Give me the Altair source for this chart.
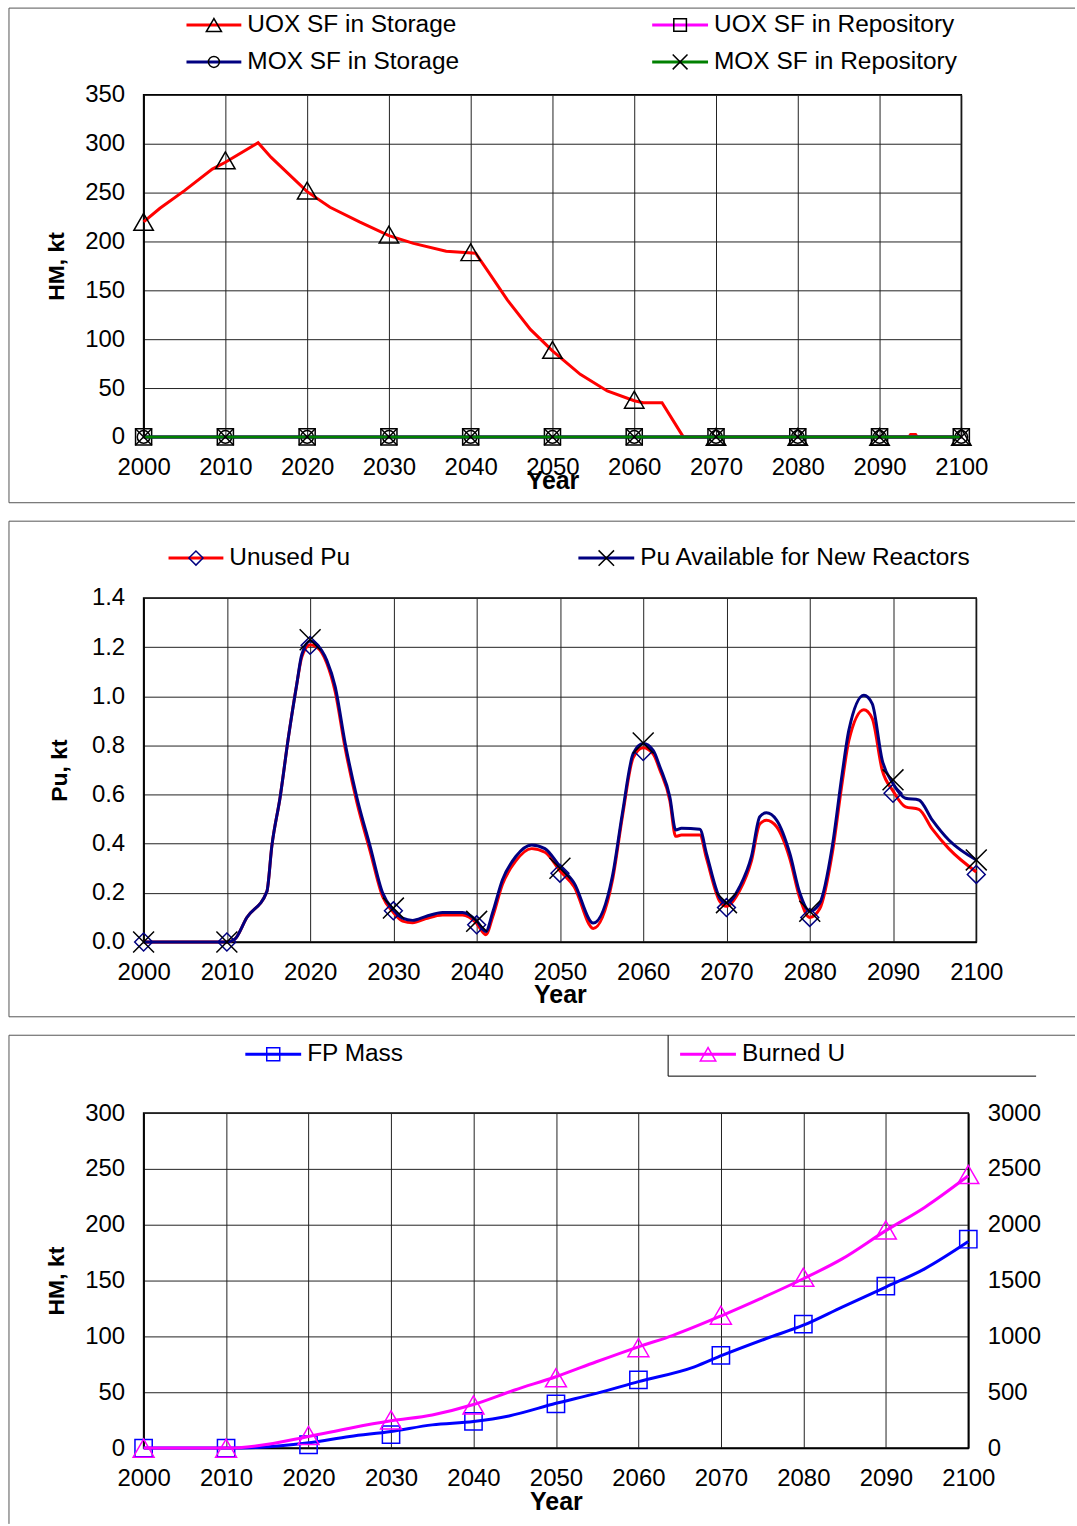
import altair as alt
import pandas as pd

FONT = "Liberation Sans"
DECADES = [2000, 2010, 2020, 2030, 2040, 2050, 2060, 2070, 2080, 2090, 2100]

# ---------------- Panel 1: spent fuel (HM, kt) ----------------
uox_storage_years = [2000, 2002, 2005, 2008.4, 2010, 2014, 2015.6, 2020, 2022.8, 2026.4, 2030, 2033,
                     2037, 2040.6, 2042, 2044.5, 2047.3, 2050, 2053.4, 2056.7, 2060, 2061.1, 2063.4,
                     2066, 2070, 2093.6, 2093.8, 2094.4, 2094.6, 2100]
uox_storage_vals = [220, 234, 252, 274, 281, 301, 286, 251, 235, 220, 206, 198,
                    190, 188, 171, 140, 110, 88, 64, 47, 37, 35, 35,
                    0, 0, 0, 2.5, 2.5, 0, 0]
uox_storage_marks = [220, 283, 252, 207, 189, 89, 38, 0, 0, 0, 0]
uox_repo_marks = [0, 0, 0, 0, 0, 0, 0, 0, 0, 0, 0]
mox_storage_marks = [0, 0, 0, 0, 0, 0, 0, 0, 0, 0, 0]
mox_repo_marks = [0, 0, 0, 0, 0, 0, 0, 0, 0, 0, 0]
hm_ticks = [0, 50, 100, 150, 200, 250, 300, 350]

# ---------------- Panel 2: plutonium (Pu, kt) ----------------
pu_years = [2000, 2010, 2010.9, 2012.4, 2014.8, 2015.4, 2016.4, 2017.4, 2018.4, 2019, 2020, 2020.8,
            2022, 2023, 2024.2, 2025.6, 2027.2, 2028.7, 2030, 2031.1, 2032.3, 2033.9, 2035.9,
            2038.3, 2039.9, 2041.1, 2041.9, 2043.1, 2044.7, 2046.6, 2048.2, 2050, 2051.7, 2054,
            2056.3, 2057.5, 2058.8, 2060, 2061.2, 2062, 2063.2, 2063.9, 2064.6, 2066.8, 2067.6,
            2069.2, 2070, 2071.6, 2073, 2074, 2074.8, 2076, 2077.6, 2078.8, 2080, 2081.2, 2082.7,
            2083.9, 2084.7, 2086.5, 2087.5, 2088.7, 2090, 2091.5, 2093.1, 2094.7, 2096.7, 2100]
pu_available = [0, 0, 0.01, 0.10, 0.205, 0.39, 0.59, 0.835, 1.05, 1.17, 1.225, 1.21,
                1.146, 1.04, 0.81, 0.59, 0.39, 0.2, 0.13, 0.097, 0.088, 0.104, 0.12,
                0.12, 0.09, 0.043, 0.118, 0.253, 0.348, 0.395, 0.38, 0.307, 0.24, 0.077,
                0.267, 0.524, 0.767, 0.808, 0.78, 0.713, 0.59, 0.456, 0.463, 0.459, 0.36,
                0.179, 0.158, 0.226, 0.348, 0.51, 0.526, 0.497, 0.361, 0.2, 0.125, 0.158, 0.388,
                0.686, 0.862, 1.004, 0.97, 0.74, 0.645, 0.585, 0.578, 0.497, 0.415, 0.334]
pu_unused = [0, 0, 0.01, 0.10, 0.205, 0.39, 0.59, 0.835, 1.05, 1.16, 1.21, 1.20,
             1.135, 1.02, 0.79, 0.57, 0.37, 0.185, 0.12, 0.085, 0.078, 0.095, 0.11,
             0.11, 0.08, 0.03, 0.10, 0.235, 0.33, 0.38, 0.365, 0.29, 0.225, 0.055,
             0.25, 0.51, 0.75, 0.79, 0.765, 0.70, 0.575, 0.43, 0.435, 0.435, 0.34,
             0.165, 0.145, 0.21, 0.33, 0.48, 0.495, 0.47, 0.34, 0.18, 0.10, 0.135, 0.36,
             0.65, 0.82, 0.945, 0.91, 0.70, 0.615, 0.55, 0.54, 0.46, 0.38, 0.285]
pu_available_marks = [0, 0, 1.23, 0.138, 0.084, 0.30, 0.81, 0.16, 0.125, 0.66, 0.334]
pu_unused_marks = [0, 0, 1.207, 0.127, 0.07, 0.28, 0.775, 0.14, 0.10, 0.605, 0.275]
pu_ticks = [0.0, 0.2, 0.4, 0.6, 0.8, 1.0, 1.2, 1.4]

# ---------------- Panel 3: FP mass / burned U ----------------
fp_years = [2000, 2010, 2013.8, 2019.8, 2025, 2030, 2035, 2040, 2044.3, 2050, 2054.9, 2060,
            2066.8, 2070.2, 2075.5, 2080, 2084.7, 2090, 2094.7, 2100]
fp_vals = [0, 0, 0.6, 4.5, 10.4, 14.9, 20.8, 23.8, 28.8, 40.1, 49, 59.5,
           72.8, 83.2, 98.1, 110, 126.3, 144.2, 160.5, 184.9]
fp_marks = [0, 0, 3, 12, 24, 39.5, 61, 83, 111, 145, 187]
bu_years = [2000, 2010, 2013.8, 2020, 2025, 2030, 2035, 2040, 2045, 2050, 2054.9, 2060,
            2064.2, 2070.2, 2074.8, 2080, 2084.7, 2090, 2094.7, 2100]
bu_vals = [0, 0, 21, 104, 178, 244, 297, 390, 520, 639, 773, 907,
           1010, 1189, 1338, 1516, 1694, 1947, 2155, 2438]
bu_marks = [0, 0, 113, 253, 386, 630, 900, 1190, 1530, 1953, 2450]
fp_ticks = [0, 50, 100, 150, 200, 250, 300]
bu_ticks = [0, 500, 1000, 1500, 2000, 2500, 3000]

# ---------------- layout constants ----------------
LEFT = 142
T1, T2, T3 = 94, 597, 1113
W1, H1 = 820, 343
W2, H2 = 835, 345
W3, H3 = 827, 336
X_SHAPE = "M-1,-1L1,1M-1,1L1,-1"
FRAME = "#555555"
LEG_FS = 24.5


def df(years, vals):
    return pd.DataFrame({"year": years, "value": vals})


def xenc(title_y):
    return alt.X("year:Q",
                 scale=alt.Scale(domain=[2000, 2100], nice=False, zero=False),
                 axis=alt.Axis(values=DECADES, format="d", title="Year", titleY=title_y,
                               titleBaseline="alphabetic", titleFontSize=25,
                               labelBaseline="alphabetic", labelPadding=38,
                               labelFlush=False, labelOverlap=False))


def yenc(domain, ticks, fmt, title, title_x, h, orient="left", grid=True):
    kw = dict(values=ticks, format=fmt, labelPadding=19, labelFlush=False,
              labelOverlap=False, grid=grid, orient=orient)
    if title:
        kw.update(title=title, titleAngle=270, titleX=title_x, titleY=h / 2,
                  titleAlign="center", titleBaseline="middle")
    else:
        kw.update(title=None)
    return alt.Y("value:Q", scale=alt.Scale(domain=domain, nice=False, zero=True),
                 axis=alt.Axis(**kw))


def line(data, color, x, y, interp="linear"):
    return alt.Chart(data).mark_line(color=color, strokeWidth=3, interpolate=interp,
                                     clip=False).encode(x=x, y=y)


def pts(data, shape, color, size, x, y):
    return alt.Chart(data).mark_point(shape=shape, filled=False, color=color, size=size,
                                      strokeWidth=1.5, opacity=1).encode(x=x, y=y)


def one():
    return alt.Data(values=[{"k": 0}])


def hline(x1, x2, y, color=FRAME, w=1):
    return alt.Chart(one()).mark_rule(color=color, strokeWidth=w).encode(
        x=alt.value(x1), x2=alt.value(x2), y=alt.value(y))


def vline(x, y1, y2, color=FRAME, w=1):
    return alt.Chart(one()).mark_rule(color=color, strokeWidth=w).encode(
        x=alt.value(x), y=alt.value(y1), y2=alt.value(y2))


def legend_item(x1, x2, y, line_color, shape, sym_color, sym_size, label):
    r = alt.Chart(one()).mark_rule(color=line_color, strokeWidth=3).encode(
        x=alt.value(x1 - LEFT), x2=alt.value(x2 - LEFT), y=alt.value(y))
    s = alt.Chart(one()).mark_point(shape=shape, filled=False, color=sym_color, size=sym_size,
                                    strokeWidth=1.5, opacity=1).encode(
        x=alt.value((x1 + x2) / 2 - LEFT), y=alt.value(y))
    t = alt.Chart(one()).mark_text(align="left", baseline="middle", font=FONT, fontSize=LEG_FS,
                                   color="black").encode(
        x=alt.value(x2 + 6 - LEFT), y=alt.value(y), text=alt.value(label))
    return [r, s, t]


def frame(top_abs, bottom_abs, T):
    return [hline(7 - LEFT, 1076 - LEFT, top_abs - T),
            vline(7 - LEFT, top_abs - T, bottom_abs - T),
            hline(7 - LEFT, 1076 - LEFT, bottom_abs - T)]


# ---------------- Panel 1 ----------------
x1 = xenc(52)
y1 = yenc([0, 350], hm_ticks, "d", "HM, kt", 55 - LEFT, H1)
p1_layers = frame(7, 503, T1) + [
    line(df(uox_storage_years, uox_storage_vals), "#FF0000", x1, y1),
    pts(df(DECADES, uox_storage_marks), "triangle-up", "black", 380, x1, y1),
    line(df(DECADES, uox_repo_marks), "#FF00FF", x1, y1),
    pts(df(DECADES, uox_repo_marks), "square", "black", 260, x1, y1),
    line(df(DECADES, mox_storage_marks), "#000080", x1, y1),
    pts(df(DECADES, mox_storage_marks), "circle", "black", 160, x1, y1),
    line(df(DECADES, mox_repo_marks), "#008000", x1, y1),
    pts(df(DECADES, mox_repo_marks), X_SHAPE, "black", 280, x1, y1),
]
p1_layers += legend_item(185, 240, 24 - T1, "#FF0000", "triangle-up", "black", 230, "UOX SF in Storage")
p1_layers += legend_item(652, 708, 24 - T1, "#FF00FF", "square", "black", 160, "UOX SF in Repository")
p1_layers += legend_item(185, 240, 61 - T1, "#000080", "circle", "black", 120, "MOX SF in Storage")
p1_layers += legend_item(652, 708, 61 - T1, "#008000", X_SHAPE, "black", 220, "MOX SF in Repository")
p1 = alt.layer(*p1_layers).properties(width=W1, height=H1)

# ---------------- Panel 2 ----------------
x2 = xenc(61)
y2 = yenc([0, 1.4], pu_ticks, ".1f", "Pu, kt", 58 - LEFT, H2)
p2_layers = frame(520, 1017, T2) + [
    line(df(pu_years, pu_unused), "#FF0000", x2, y2, "monotone"),
    pts(df(DECADES, pu_unused_marks), "diamond", "#000080", 320, x2, y2),
    line(df(pu_years, pu_available), "#000080", x2, y2, "monotone"),
    pts(df(DECADES, pu_available_marks), X_SHAPE, "black", 440, x2, y2),
]
p2_layers += legend_item(167, 222, 557 - T2, "#FF0000", "diamond", "#000080", 200, "Unused Pu")
p2_layers += legend_item(578, 634, 557 - T2, "#000080", X_SHAPE, "black", 240, "Pu Available for New Reactors")
p2 = alt.layer(*p2_layers).properties(width=W2, height=H2)

# ---------------- Panel 3 ----------------
x3 = xenc(62)
y3l = yenc([0, 300], fp_ticks, "d", "HM, kt", 55 - LEFT, H3)
y3r = yenc([0, 3000], bu_ticks, "d", None, 0, H3, orient="right", grid=False)
left_part = alt.layer(
    line(df(fp_years, fp_vals), "#0000FF", x3, y3l, "monotone"),
    pts(df(DECADES, fp_marks), "square", "#0000FF", 300, x3, y3l),
)
right_part = alt.layer(
    line(df(bu_years, bu_vals), "#FF00FF", x3, y3r, "monotone"),
    pts(df(DECADES, bu_marks), "triangle-up", "#FF00FF", 440, x3, y3r),
)
p3_layers = [vline(7 - LEFT, 1035 - T3, 1525 - T3),
             hline(7 - LEFT, 1076 - LEFT, 1035 - T3),
             vline(668 - LEFT, 1035 - T3, 1076 - T3, color="black"),
             hline(668 - LEFT, 1037 - LEFT, 1076 - T3, color="black"),
             left_part, right_part]
p3_layers += legend_item(244, 300, 1054 - T3, "#0000FF", "square", "#0000FF", 170, "FP Mass")
p3_layers += legend_item(680, 736, 1054 - T3, "#FF00FF", "triangle-up", "#FF00FF", 240, "Burned U")
p3 = alt.layer(*p3_layers).resolve_scale(y="independent").properties(width=W3, height=H3)

chart = alt.vconcat(p1, p2, p3, spacing=14.5, bounds="full").properties(
    padding={"left": 7, "top": 4, "right": 0, "bottom": 0},
    autosize=alt.AutoSizeParams(type="pad"),
    background="white",
).configure_view(
    stroke="black", strokeWidth=1.5
).configure_axis(
    labelFont=FONT, labelFontSize=24, labelColor="black",
    titleFont=FONT, titleFontSize=23, titleFontWeight="bold", titleColor="black",
    gridColor="#222222", gridWidth=1, gridOpacity=1,
    domainColor="black", domainWidth=1.5,
    ticks=False, tickSize=0,
)

chart.save("out.html", embed_options={"renderer": "svg", "actions": False})
